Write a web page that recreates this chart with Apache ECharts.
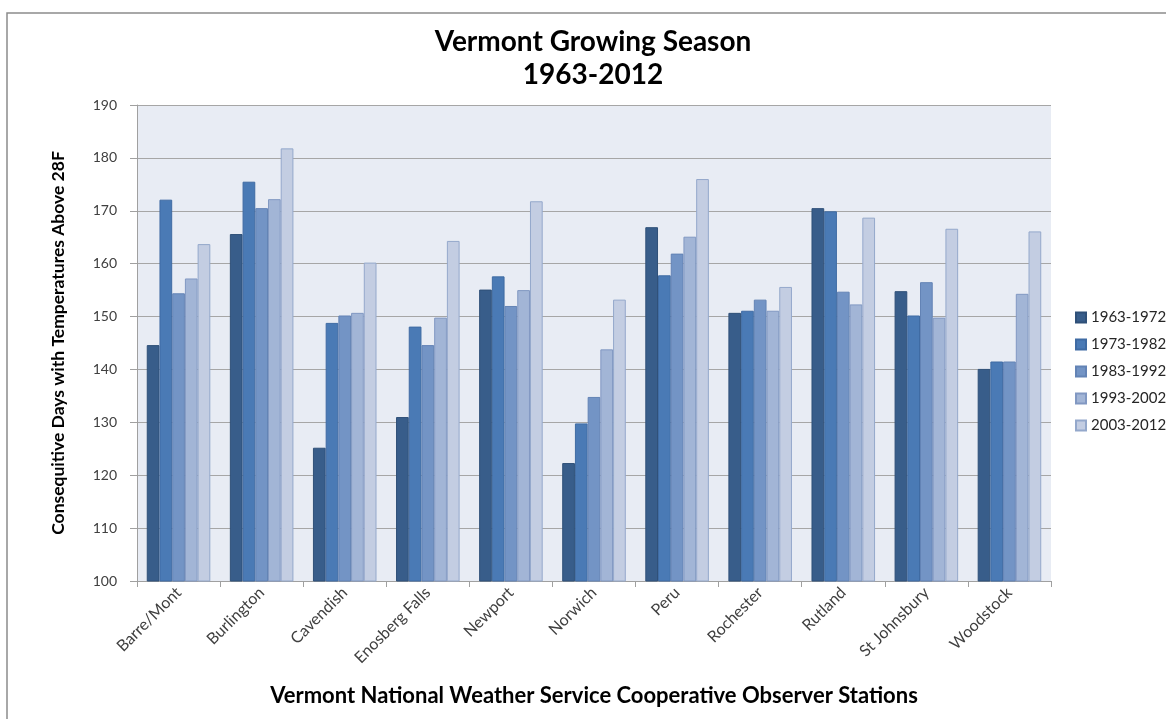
<!DOCTYPE html>
<html>
<head>
<meta charset="utf-8">
<script src="https://cdn.jsdelivr.net/npm/echarts@6/dist/echarts.min.js"></script>
<style>html,body{margin:0;padding:0;background:#fff;}#c{width:1166px;height:719px;}</style>
</head>
<body>
<div id="c"></div>
<script>
const categories = ['Barre/Mont','Burlington','Cavendish','Enosberg Falls','Newport','Norwich','Peru','Rochester','Rutland','St Johnsbury','Woodstock'];
const seriesNames = ['1963-1972','1973-1982','1983-1992','1993-2002','2003-2012'];
const s1963 = [144.6,165.6,125.2,131.0,155.1,122.3,166.9,150.7,170.5,154.8,140.1];
const s1973 = [172.1,175.5,148.8,148.1,157.6,129.8,157.8,151.1,169.9,150.2,141.5];
const s1983 = [154.4,170.5,150.2,144.6,152.0,134.8,161.9,153.2,154.7,156.5,141.5];
const s1993 = [157.2,172.2,150.7,149.8,155.0,143.8,165.1,151.1,152.3,149.8,154.3];
const s2003 = [163.7,181.8,160.2,164.3,171.8,153.2,176.0,155.6,168.7,166.6,166.1];
const yTicks = [100,110,120,130,140,150,160,170,180,190];

const seriesData = [s1963, s1973, s1983, s1993, s2003];
const fills = ['#385D8A','#4A7AB5','#7394C5','#A2B5D6','#C3CDE2'];
const borders = ['#2F5078','#3F6BA3','#6383B5','#8198C2','#94A8CB'];
const FONT = 'Lato, "Liberation Sans", sans-serif';

const chart = echarts.init(document.getElementById('c'), null, {renderer: 'canvas'});
chart.setOption({
  backgroundColor: '#ffffff',
  animation: false,
  graphic: [
    { type: 'rect', shape: { x: 7, y: 13, width: 1300, height: 800 }, style: { fill: 'none', stroke: '#8C8C8C', lineWidth: 1.5 }, silent: true, z: 0 },
    { type: 'text', x: 593, y: 58, style: { text: 'Vermont Growing Season\n1963-2012', font: 'bold 28px ' + FONT, fill: '#000', align: 'center', verticalAlign: 'middle', lineHeight: 33 }, z: 10 }
  ],
  legend: {
    orient: 'vertical',
    left: 1075,
    top: 310,
    padding: 0,
    itemWidth: 10,
    itemHeight: 10,
    itemGap: 12,
    icon: 'rect',
    data: seriesNames,
    textStyle: { fontFamily: FONT, fontSize: 15, color: '#262626', lineHeight: 14 }
  },
  grid: { left: 137, right: 115, top: 105, bottom: 138, show: true, backgroundColor: '#E8ECF4', borderWidth: 0 },
  xAxis: {
    type: 'category',
    data: categories,
    name: 'Vermont National Weather Service Cooperative Observer Stations',
    nameLocation: 'middle',
    nameGap: 104,
    nameTextStyle: { fontFamily: FONT, fontSize: 22, fontWeight: 'bold', color: '#000' },
    axisLine: { lineStyle: { color: '#A0A0A0', width: 1 } },
    axisTick: { show: true, length: 6, lineStyle: { color: '#A0A0A0' } },
    axisLabel: { interval: 0, rotate: 45, margin: 9, fontFamily: FONT, fontSize: 16, color: '#404040' }
  },
  yAxis: {
    type: 'value',
    min: yTicks[0],
    max: yTicks[yTicks.length - 1],
    interval: 10,
    name: 'Consequitive Days with Temperatures Above 28F',
    nameLocation: 'middle',
    nameRotate: 90,
    nameGap: 70,
    nameTextStyle: { fontFamily: FONT, fontSize: 17.5, fontWeight: 'bold', color: '#000' },
    axisLine: { show: true, lineStyle: { color: '#A0A0A0', width: 1 } },
    axisTick: { show: true, length: 7, lineStyle: { color: '#A0A0A0' } },
    axisLabel: { margin: 20, fontFamily: FONT, fontSize: 14, color: '#404040' },
    splitLine: { show: true, lineStyle: { color: '#A6A6A6', width: 1 } }
  },
  series: seriesNames.map((n, i) => ({
    name: n,
    type: 'bar',
    data: seriesData[i],
    barGap: '0%',
    barCategoryGap: '23.5%',
    itemStyle: { color: fills[i], borderColor: borders[i], borderWidth: 1 }
  }))
});
</script>
</body>
</html>
